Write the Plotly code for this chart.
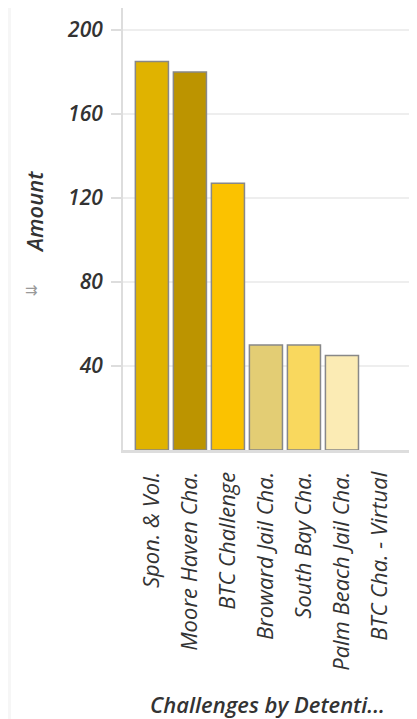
import plotly.graph_objects as go

categories = ["Spon. & Vol.", "Moore Haven Cha.", "BTC Challenge", "Broward Jail Cha.",
              "South Bay Cha.", "Palm Beach Jail Cha.", "BTC Cha. - Virtual"]
amounts = [185, 180, 127, 50, 50, 45, 0]
bar_colors = ["#E0B300", "#BC9400", "#FBC200", "#E3CD74", "#F9D85E", "#FBEBB4", "#FBEBB4"]
y_ticks = [40, 80, 120, 160, 200]

semi = dict(family="Open Sans", color="#333333", weight=600, style="italic")
reg = dict(family="Open Sans", color="#333333", weight=400, style="italic")

fig = go.Figure()
fig.add_trace(go.Bar(
    x=categories, y=amounts,
    marker=dict(color=bar_colors, line=dict(color="#888888",
                                             width=[1.5 if a > 0 else 0 for a in amounts])),
    hoverinfo="x+y",
))

# the page body adds an 8px offset, so margins are shifted by that
fig.update_layout(
    width=417, height=719,
    margin=dict(l=115, r=15, t=0, b=277),
    paper_bgcolor="#f6f6f6", plot_bgcolor="white",
    bargap=0.13, showlegend=False,
    xaxis=dict(range=[-0.76, 6.79], tickangle=-90, showline=True, linecolor="#dddddd",
               linewidth=3, showgrid=False, ticks="", ticklabelstandoff=10,
               tickfont=dict(size=22, **reg)),
    yaxis=dict(range=[0, 210.5], tickvals=y_ticks, showline=True, linecolor="#dddddd",
               linewidth=2, gridcolor="#eeeeee", gridwidth=2, zeroline=False,
               ticks="outside", ticklen=10, tickcolor="#dddddd", tickwidth=2,
               ticklabelstandoff=4, tickfont=dict(size=21, **semi)),
    shapes=[dict(type="rect", xref="paper", yref="paper", x0=-0.39, x1=1.0, y0=-0.65, y1=1.0,
                 fillcolor="white", line=dict(width=0), layer="below")],
    annotations=[
        dict(text="Amount", x=-0.37, y=0.538, xref="paper", yref="paper", textangle=-90,
             showarrow=False, font=dict(size=22, **semi)),
        dict(text="⇉", x=-0.348, y=0.362, xref="paper", yref="paper",
             showarrow=False, font=dict(size=15, color="#999999", family="DejaVu Sans")),
        dict(text="Challenges by Detenti...", x=0.502, y=-0.613, xref="paper", yref="paper",
             showarrow=False, font=dict(size=22, **semi)),
    ],
)

fig.write_html("out.html")
